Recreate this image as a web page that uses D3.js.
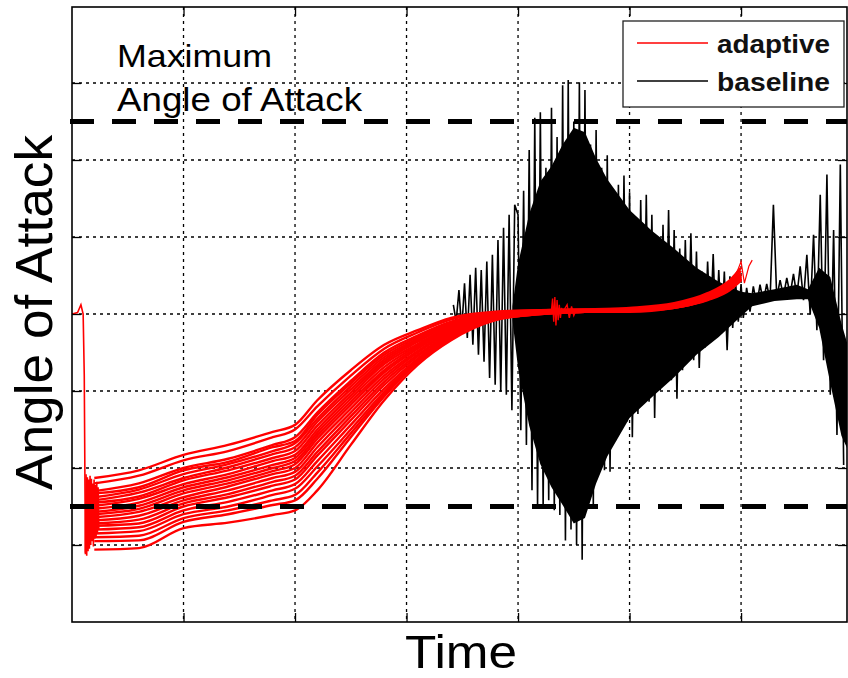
<!DOCTYPE html>
<html><head><meta charset="utf-8">
<script src="https://cdn.jsdelivr.net/npm/d3@7"></script>
<style>body{margin:0;background:#fff} svg{display:block}</style>
</head><body>
<svg id="c" width="848" height="678"></svg>
<script>
// ---------------- data ----------------
const xTicks = [1, 2, 3, 4, 5, 6];
const yTicks = [1, 2, 3, 4, 5, 6, 7];
const maxLimits = [6.5, 1.5];
const legendLabels = ["adaptive", "baseline"];
const annotation = ["Maximum", "Angle of Attack"];

// adaptive: initial transient
const adaptiveStartT = [0, 0.05, 0.08, 0.10, 0.11, 0.12];
const adaptiveStartV = [4.0, 4.02, 4.12, 4.0, 3.2, 0.9];
const adaptiveOscT = [0.120,0.126,0.132,0.138,0.144,0.150,0.156,0.162,0.168,0.174,0.180,0.186,0.192,0.198,0.204,0.210,0.216,0.222,0.228,0.234,0.240];
const adaptiveOscV = [0.88,1.92,0.86,1.88,0.92,1.85,0.95,1.90,1.00,1.86,1.05,1.80,0.98,1.85,1.08,1.78,1.10,1.82,1.15,1.75,1.20];
// adaptive: family of runs
const adaptiveT = [0.2, 0.6, 1.0, 1.4, 1.8, 2.0, 2.2, 2.5, 2.8, 3.1, 3.4, 3.8, 4.2, 4.6, 5.0, 5.4, 5.7, 5.9, 6.0];
const run1  = [1.87,1.97,2.17,2.30,2.47,2.56,2.88,3.27,3.60,3.79,3.95,4.03,4.05,4.06,4.08,4.14,4.27,4.44,4.60];
const run2  = [1.80,1.90,2.10,2.22,2.40,2.50,2.80,3.20,3.55,3.76,3.93,4.02,4.05,4.06,4.07,4.13,4.25,4.42,4.56];
const run3  = [1.70,1.80,2.00,2.12,2.30,2.40,2.72,3.13,3.50,3.72,3.90,4.01,4.04,4.05,4.07,4.12,4.24,4.40,4.52];
const run4  = [1.67,1.75,1.97,2.08,2.27,2.35,2.69,3.10,3.47,3.70,3.89,4.00,4.04,4.05,4.06,4.12,4.23,4.39,4.51];
const run5  = [1.62,1.72,1.92,2.05,2.22,2.32,2.64,3.06,3.44,3.68,3.88,4.00,4.04,4.05,4.06,4.12,4.23,4.38,4.50];
const run6  = [1.58,1.68,1.87,2.01,2.18,2.27,2.60,3.02,3.41,3.66,3.87,3.99,4.03,4.05,4.06,4.11,4.22,4.37,4.49];
const run7  = [1.55,1.63,1.84,1.97,2.13,2.22,2.55,2.98,3.38,3.64,3.86,3.99,4.03,4.05,4.06,4.11,4.22,4.37,4.48];
const run8  = [1.51,1.60,1.79,1.92,2.09,2.17,2.50,2.94,3.35,3.61,3.84,3.98,4.03,4.04,4.06,4.11,4.22,4.36,4.48];
const run9  = [1.47,1.55,1.75,1.88,2.04,2.13,2.46,2.90,3.31,3.59,3.83,3.98,4.03,4.04,4.06,4.11,4.22,4.36,4.47];
const run10 = [1.43,1.51,1.71,1.84,2.00,2.09,2.42,2.86,3.27,3.57,3.82,3.97,4.02,4.04,4.05,4.10,4.21,4.35,4.46];
const run11 = [1.40,1.47,1.67,1.80,1.96,2.05,2.38,2.82,3.24,3.55,3.80,3.97,4.02,4.04,4.05,4.10,4.21,4.35,4.46];
const run12 = [1.36,1.43,1.62,1.76,1.92,2.00,2.33,2.77,3.20,3.52,3.78,3.96,4.02,4.04,4.05,4.10,4.20,4.34,4.46];
const run13 = [1.32,1.38,1.58,1.71,1.87,1.95,2.27,2.72,3.16,3.50,3.77,3.96,4.02,4.04,4.05,4.10,4.20,4.34,4.46];
const run14 = [1.28,1.33,1.54,1.66,1.82,1.90,2.21,2.67,3.12,3.47,3.75,3.95,4.01,4.03,4.05,4.09,4.20,4.33,4.45];
const run15 = [1.25,1.28,1.50,1.62,1.77,1.85,2.16,2.62,3.08,3.45,3.74,3.95,4.01,4.03,4.05,4.09,4.20,4.33,4.45];
const run16 = [1.20,1.23,1.45,1.56,1.71,1.79,2.09,2.56,3.03,3.42,3.72,3.94,4.01,4.03,4.04,4.09,4.19,4.33,4.45];
const run17 = [1.15,1.18,1.40,1.50,1.65,1.73,2.02,2.50,2.99,3.40,3.71,3.94,4.01,4.03,4.04,4.09,4.19,4.33,4.45];
const run18 = [1.10,1.12,1.35,1.45,1.58,1.65,1.94,2.45,2.96,3.38,3.69,3.93,4.00,4.03,4.04,4.08,4.19,4.32,4.44];
const run19 = [1.05,1.06,1.30,1.40,1.52,1.58,1.86,2.40,2.93,3.37,3.68,3.93,4.00,4.03,4.04,4.08,4.19,4.32,4.44];
const run20 = [0.94,0.96,1.22,1.29,1.39,1.45,1.71,2.30,2.88,3.34,3.66,3.92,4.00,4.03,4.03,4.08,4.18,4.31,4.44];
const adaptiveRuns = [run1, run2, run3, run4, run5, run6, run7, run8, run9, run10,
                      run11, run12, run13, run14, run15, run16, run17, run18, run19, run20];
const adaptiveJitterT = [4.30,4.31,4.32,4.33,4.34,4.35,4.36,4.37,4.38,4.39,4.40,4.44,4.46,4.48,4.50,4.52];
const adaptiveJitterV = [4.05,4.20,3.90,4.22,3.85,4.18,3.92,4.12,3.95,4.08,4.02,4.12,3.95,4.10,3.98,4.05];
const adaptiveHookT = [5.9, 5.97, 6.0, 6.03, 6.07, 6.1];
const adaptiveHookV = [4.38, 4.57, 4.68, 4.40, 4.62, 4.70];

// baseline: dense core envelope
const coreT  = [3.95, 4.0, 4.1, 4.2, 4.3, 4.4, 4.5, 4.6, 4.7, 4.8, 5.0, 5.2, 5.4, 5.6, 5.8, 6.0, 6.1, 6.3, 6.5, 6.6, 6.7, 6.8, 6.9, 6.95];
const coreHi = [4.10,4.65,5.30,5.72,5.92,6.20,6.42,6.36,6.02,5.75,5.35,5.08,4.85,4.60,4.42,4.29,4.27,4.32,4.38,4.32,4.60,4.48,3.88,3.63];
const coreLo = [3.92,3.30,2.55,2.05,1.75,1.52,1.28,1.35,1.80,2.15,2.65,2.92,3.18,3.47,3.70,3.97,4.10,4.17,4.19,4.19,3.82,3.10,2.42,2.26];
// baseline: oscillation extremes
const baselineT = [
  3.42,3.445,3.47,3.495,3.52,3.545,3.57,3.595,3.62,3.645,3.67,3.695,3.72,3.745,3.77,3.795,3.82,3.845,3.87,3.895,3.92,3.945,3.97,
  4.000,4.025,4.050,4.075,4.100,4.125,4.150,4.175,4.200,4.225,4.250,4.275,4.300,4.325,4.350,4.375,4.400,4.425,4.450,4.475,
  4.500,4.525,4.550,4.575,4.600,4.625,4.650,4.675,4.700,4.725,4.750,4.775,4.800,4.825,4.850,4.875,4.900,4.925,4.950,4.975,
  5.000,5.025,5.050,5.075,5.100,5.125,5.150,5.175,5.200,5.225,5.250,5.275,5.300,5.325,5.350,5.375,5.400,5.425,5.450,5.475,
  5.500,5.525,5.550,5.575,5.600,5.625,5.650,5.675,5.700,5.725,5.750,5.775,5.800,5.825,5.850,5.875,5.900,5.925,5.950,5.975,6.000,
  6.02,6.05,6.08,6.11,6.14,6.17,6.20,6.23,6.26,6.29,6.32,6.35,6.38,6.41,6.44,6.47,6.50,6.53,6.56,6.59,6.62,6.65,6.68,6.71,6.74,6.77,6.80,6.83,6.86,6.89,6.92,6.95];
const baselineV = [
  4.12,3.90,4.31,3.79,4.40,3.69,4.51,3.60,4.60,3.47,4.57,3.38,4.68,3.17,4.77,3.08,4.96,2.99,5.12,2.95,5.29,2.75,5.42,
  5.29,2.49,5.60,2.30,6.13,1.71,6.55,1.52,6.62,1.50,5.90,1.58,6.68,1.45,6.30,1.39,6.97,1.06,7.04,1.20,
  6.50,1.00,7.01,0.81,6.91,1.50,6.20,1.52,6.39,2.10,5.90,1.97,6.06,1.95,5.60,2.36,5.68,2.80,5.80,2.60,
  5.58,2.40,5.20,2.70,5.48,3.00,5.55,2.86,5.29,2.65,5.00,3.01,5.16,3.30,5.35,3.14,5.09,2.90,4.85,3.27,
  4.96,3.50,5.05,3.40,4.81,3.30,4.55,3.56,4.68,3.80,4.78,3.69,4.57,3.75,4.55,3.53,4.49,3.82,4.44,3.90,4.39,
  3.95,4.34,4.03,4.36,4.12,4.38,4.16,4.39,4.18,5.42,4.21,4.44,4.23,4.47,4.25,4.52,4.23,4.62,4.18,4.77,3.99,5.03,3.79,5.55,3.40,5.81,2.95,5.09,2.43,5.94,2.04];

// ---------------- drawing ----------------
const svg = d3.select("#c");
const L = 72, R = 847, T = 7, B = 622;
const x = d3.scaleLinear().domain([0, 6.95]).range([L, R]);
const y = d3.scaleLinear().domain([0, 8]).range([B, 6]);
const FONT = "'Liberation Sans', Arial, sans-serif";

svg.append("defs").append("clipPath").attr("id", "clip")
  .append("rect").attr("x", L).attr("y", T).attr("width", R - L).attr("height", B - T);

// grid
const grid = svg.append("g").attr("stroke", "#000").attr("stroke-width", 1.3).attr("stroke-dasharray", "3,4");
grid.selectAll("line.v").data(xTicks).join("line")
  .attr("x1", d => x(d)).attr("x2", d => x(d)).attr("y1", T).attr("y2", B);
grid.selectAll("line.h").data(yTicks).join("line")
  .attr("x1", L).attr("x2", R).attr("y1", d => y(d)).attr("y2", d => y(d));

const plot = svg.append("g").attr("clip-path", "url(#clip)");

// baseline
plot.append("path")
  .datum(coreT.map((t, i) => [t, coreHi[i], coreLo[i]]))
  .attr("fill", "#000")
  .attr("d", d3.area().x(d => x(d[0])).y0(d => y(d[2])).y1(d => y(d[1])));
plot.append("path")
  .datum(baselineT.map((t, i) => [t, baselineV[i]]))
  .attr("fill", "none").attr("stroke", "#000").attr("stroke-width", 1.6)
  .attr("d", d3.line().x(d => x(d[0])).y(d => y(d[1])));

// adaptive
const redLine = d3.line().x(d => x(d[0])).y(d => y(d[1]));
const redSmooth = d3.line().x(d => x(d[0])).y(d => y(d[1])).curve(d3.curveMonotoneX);
const red = plot.append("g").attr("fill", "none").attr("stroke", "#ff0000");
red.selectAll("path.run").data(adaptiveRuns).join("path")
  .attr("stroke-width", 2.4)
  .attr("d", r => redSmooth(adaptiveT.map((t, i) => [t, r[i]])));
red.append("path").attr("stroke-width", 1.6)
  .attr("d", redLine(adaptiveStartT.map((t, i) => [t, adaptiveStartV[i]])));
red.append("path").attr("stroke-width", 1.6)
  .attr("d", redLine(adaptiveOscT.map((t, i) => [t, adaptiveOscV[i]])));
red.append("path").attr("stroke-width", 1.4)
  .attr("d", redLine(adaptiveJitterT.map((t, i) => [t, adaptiveJitterV[i]])));
red.append("path").attr("stroke-width", 1.2)
  .attr("d", redLine(adaptiveHookT.map((t, i) => [t, adaptiveHookV[i]])));

// maximum angle lines
svg.append("g").selectAll("line").data(maxLimits).join("line")
  .attr("x1", L - 2).attr("x2", R).attr("y1", d => y(d)).attr("y2", d => y(d))
  .attr("stroke", "#000").attr("stroke-width", 5).attr("stroke-dasharray", "24,18");

// axes frame and ticks
const tk = 9;
svg.append("g").attr("transform", `translate(0,${B})`)
  .call(d3.axisBottom(x).tickValues(xTicks).tickSize(-tk).tickFormat(""));
svg.append("g").attr("transform", `translate(0,${T})`)
  .call(d3.axisTop(x).tickValues(xTicks).tickSize(-tk).tickFormat(""));
svg.append("g").attr("transform", `translate(${L},0)`)
  .call(d3.axisLeft(y).tickValues(yTicks).tickSize(-tk).tickFormat(""));
svg.append("g").attr("transform", `translate(${R},0)`)
  .call(d3.axisRight(y).tickValues(yTicks).tickSize(-tk).tickFormat(""));
svg.selectAll(".domain").remove();
svg.selectAll(".tick line").attr("stroke", "#000").attr("stroke-width", 1.3);
svg.append("rect").attr("x", L).attr("y", T).attr("width", R - L).attr("height", B - T)
  .attr("fill", "none").attr("stroke", "#000").attr("stroke-width", 1.6);

// annotation
svg.append("text").attr("x", 117).attr("y", 67).attr("font-family", FONT).attr("font-size", 32)
  .attr("textLength", 155).attr("lengthAdjust", "spacingAndGlyphs").text(annotation[0]);
svg.append("text").attr("x", 117).attr("y", 111).attr("font-family", FONT).attr("font-size", 33)
  .attr("textLength", 245).attr("lengthAdjust", "spacingAndGlyphs").text(annotation[1]);

// axis labels
svg.append("text").attr("x", 405).attr("y", 668).attr("font-family", FONT).attr("font-size", 46)
  .attr("textLength", 112).attr("lengthAdjust", "spacingAndGlyphs").text("Time");
svg.append("text").attr("transform", "translate(52,490) rotate(-90)")
  .attr("font-family", FONT).attr("font-size", 52)
  .attr("textLength", 355).attr("lengthAdjust", "spacingAndGlyphs").text("Angle of Attack");

// legend
const lg = svg.append("g");
lg.append("rect").attr("x", 623).attr("y", 21).attr("width", 221).attr("height", 86)
  .attr("fill", "#fff").attr("stroke", "#222").attr("stroke-width", 1.3);
const legendColors = ["#ff0000", "#000"];
const legendY = [43, 81];
legendLabels.forEach((lab, i) => {
  lg.append("line").attr("x1", 637).attr("x2", 708).attr("y1", legendY[i]).attr("y2", legendY[i])
    .attr("stroke", legendColors[i]).attr("stroke-width", 1.3);
  lg.append("text").attr("x", 717).attr("y", legendY[i] + 10).attr("font-family", FONT)
    .attr("font-size", 26).attr("font-weight", "bold").attr("fill", "#111")
    .attr("textLength", 113).attr("lengthAdjust", "spacingAndGlyphs").text(lab);
});
</script>
</body></html>
